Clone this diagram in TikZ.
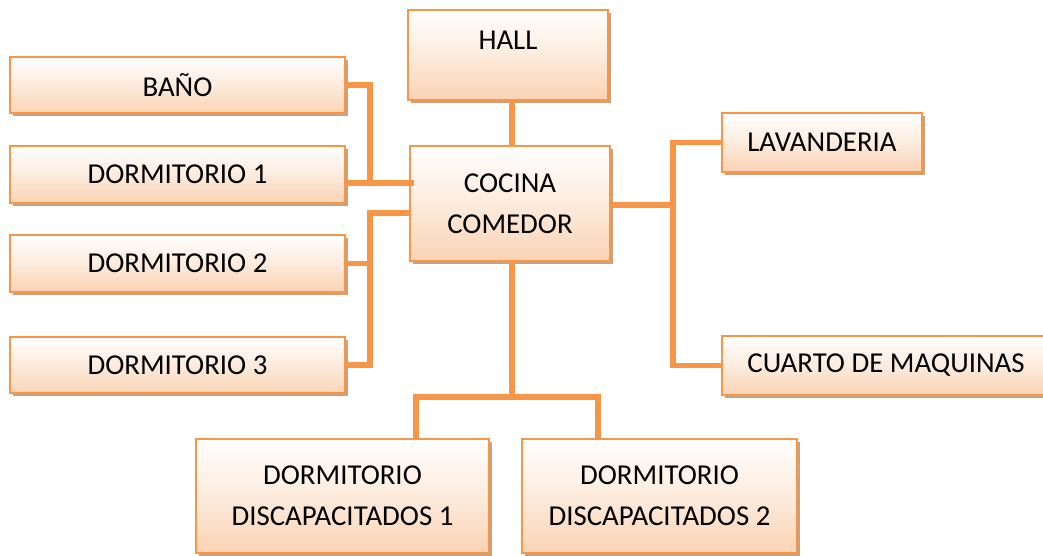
\documentclass[tikz,border=0pt]{standalone}
\usepackage{fontspec}
\setmainfont{Carlito}
\usetikzlibrary{shadows}
\definecolor{borde}{HTML}{F79646}
\definecolor{fondo}{HTML}{FAD3B4}
\definecolor{sombra}{HTML}{C9A080}

\begin{document}
\begin{tikzpicture}[
    x=0.025cm, y=-0.025cm,
    room/.style={rectangle, draw=borde, line width=1.6pt, top color=white, bottom color=fondo,
        middle color=fondo!45, align=center, font=\fontsize{20.5}{29}\selectfont,
        general shadow={fill=sombra, shadow xshift=0.08cm, shadow yshift=-0.08cm}},
    link/.style={draw=borde, line width=4pt}
]
    \clip (0,0) rectangle (1043,556);

    % espacios
    \node[room, minimum width=5cm, minimum height=2.25cm, text depth=21pt] (hall) at (508,55) {HALL};
    \node[room, minimum width=8.375cm, minimum height=1.4cm] (bano) at (177.5,85) {BAÑO};
    \node[room, minimum width=8.375cm, minimum height=1.425cm] (dorm1) at (177.5,174.5) {DORMITORIO 1};
    \node[room, minimum width=8.375cm, minimum height=1.425cm] (dorm2) at (177.5,263.5) {DORMITORIO 2};
    \node[room, minimum width=8.375cm, minimum height=1.4cm] (dorm3) at (177.5,365) {DORMITORIO 3};
    \node[room, minimum width=5cm, minimum height=2.875cm] (cocina) at (510,203.5) {COCINA\\COMEDOR};
    \node[room, minimum width=5cm, minimum height=1.475cm] (lav) at (822,142.5) {LAVANDERIA};
    \node[room, minimum width=8.2cm, minimum height=1.475cm] (cuarto) at (886,365.5) {CUARTO DE MAQUINAS};
    \node[room, minimum width=7.325cm, minimum height=2.85cm] (disc1) at (342.5,496) {DORMITORIO\\DISCAPACITADOS 1};
    \node[room, minimum width=6.875cm, minimum height=2.85cm] (disc2) at (659.5,496) {DORMITORIO\\DISCAPACITADOS 2};

    % uniones
    \coordinate (jl1) at (370,183);
    \coordinate (jl2) at (370,213);
    \coordinate (jr) at (673,205);
    \coordinate (jb) at (512,397);
    \coordinate (jb1) at (416,397);
    \coordinate (jb2) at (598,397);

    \draw[link] (hall.south -| jb) -- (cocina.north -| jb);
    \draw[link] (bano.east) -| (jl1);
    \draw[link] (dorm1.east |- jl1) -- ([xshift=0.12cm]cocina.west |- jl1);
    \draw[link] (cocina.west |- jl2) -- (jl2) |- (dorm3.east);
    \draw[link] (dorm2.east) -- (jl2 |- dorm2.east);
    \draw[link] (cocina.east |- jr) -- (jr);
    \draw[link] (lav.west) -| (jr) |- (cuarto.west);
    \draw[link] (cocina.south -| jb) -- (jb);
    \draw[link] (jb1 |- disc1.north) -- (jb1) -- (jb2) -- (jb2 |- disc2.north);
\end{tikzpicture}
\end{document}
